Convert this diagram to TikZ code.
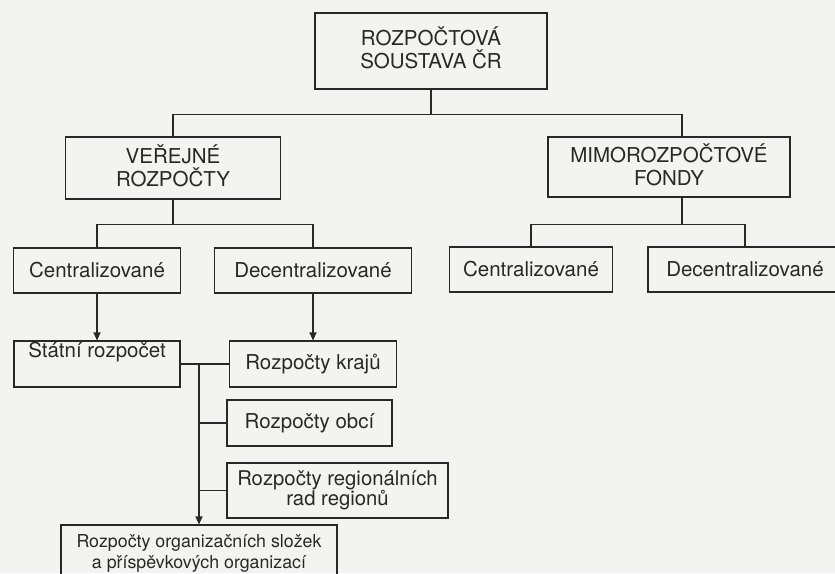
\documentclass[tikz,border=0pt]{standalone}
\usepackage{fontspec}
\setmainfont{TeX Gyre Heros}
\usepackage{tikz}
\usetikzlibrary{arrows.meta,calc}
\definecolor{scan}{RGB}{243,243,241}
\definecolor{ink}{RGB}{40,40,40}

\begin{document}
\begin{tikzpicture}[x=1pt,y=-1pt,
  box/.style={draw=ink,line width=1.1pt,inner sep=0pt,align=center,text=ink,font=\fontsize{20.5}{23}\selectfont},
  midbox/.style={box,font=\fontsize{20.3}{20}\selectfont},
  smallbox/.style={box,font=\fontsize{17.8}{21}\selectfont},
  link/.style={ink,line width=1.1pt},
  arr/.style={link,-{Triangle[width=7pt,length=8pt]}}]
\fill[scan] (0,0) rectangle (835,573);
\useasboundingbox (0,0) rectangle (835,573);
\node[box,minimum width=232pt,text height=55pt,text depth=21pt] (root) at (431,51) {ROZPOČTOVÁ\\SOUSTAVA ČR};
\node[box,minimum width=215pt,text height=49pt,text depth=13pt] (verejne) at (173,168) {VEŘEJNÉ\\ROZPOČTY};
\node[box,minimum width=242pt,text height=48pt,text depth=12pt] (mimo) at (669,167) {MIMOROZPOČTOVÉ\\FONDY};
\node[box,minimum width=167pt,minimum height=45pt] (cent1) at (97,270.5) {Centralizované};
\node[box,minimum width=197pt,minimum height=45pt] (decent1) at (313,270.5) {Decentralizované};
\node[box,minimum width=163pt,minimum height=45pt] (cent2) at (531,269.5) {Centralizované};
\node[box,minimum width=194pt,minimum height=45pt] (decent2) at (745,269.5) {Decentralizované};
\node[box,minimum width=166pt,text height=16pt,text depth=30pt] (statni) at (97,364) {Státní rozpočet};
\node[box,minimum width=167pt,minimum height=46pt] (kraje) at (313,364) {Rozpočty krajů};
\node[box,minimum width=165pt,minimum height=46pt] (obce) at (309.5,423) {Rozpočty obcí};
\node[midbox,minimum width=221pt,text height=42pt,text depth=13pt] (rady) at (337.5,490.5) {Rozpočty regionálních\\rad regionů};
\node[smallbox,minimum width=276pt,text height=43pt,text depth=13pt] (slozky) at (199,553) {Rozpočty organizačních složek\\a příspěvkových organizací};
\draw[link] (root.south) -- ++(0,25) coordinate (rbus);
\draw[link] (verejne.north) |- (rbus) -| ([xshift=13pt]mimo.north);
\draw[link] (verejne.south) -- ++(0,25) coordinate (vbus);
\draw[link] (cent1.north) |- (vbus) -| (decent1.north);
\draw[link] ([xshift=13pt]mimo.south) -- ++(0,27) coordinate (mbus);
\draw[link] (cent2.north) |- (mbus) -| (decent2.north);
\draw[arr] (cent1.south) -- (statni.north);
\draw[arr] (decent1.south) -- (kraje.north);
\draw[link] (statni.east) -- (kraje.west);
\draw[arr,line width=1.5pt] (statni.east -| slozky.north) -- (slozky.north);
\draw[link] (obce.west -| slozky.north) -- (obce.west);
\draw[link] (rady.west -| slozky.north) -- (rady.west);
\end{tikzpicture}
\end{document}
